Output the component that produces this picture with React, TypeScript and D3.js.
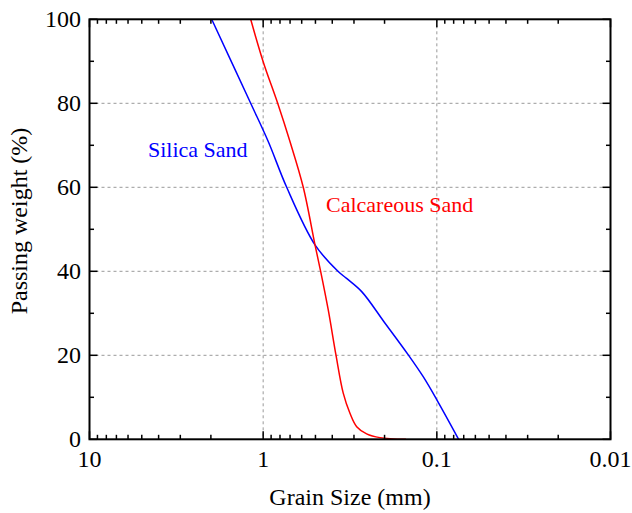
import React from "react";
import * as d3 from "d3";

const silicaSize = [1.979, 1.18, 0.935, 0.732, 0.503, 0.371, 0.331, 0.27, 0.2016, 0.146, 0.1198, 0.1, 0.0749];
const silicaPass = [100, 80, 70.9, 60, 46.3, 40, 38.3, 35.1, 28, 20.1, 14.9, 9.4, 0];

const calcSize = [1.18, 1.0, 0.825, 0.701, 0.5876, 0.503, 0.4667, 0.4219, 0.381, 0.3459, 0.3164, 0.2894, 0.2536, 0.2127, 0.1506];
const calcPass = [100, 89.9, 80, 70.9, 60, 46.3, 40, 30.8, 20.1, 11, 6.2, 3.0, 1.3, 0.4, 0];

const xMajorTicks = [10, 1, 0.1, 0.01];
const xTickLabels = ["10", "1", "0.1", "0.01"];
const yMajorTicks = [0, 20, 40, 60, 80, 100];
const yMinorTicks = [10, 30, 50, 70, 90];

const W = 632, H = 513;
const L = 89.5, R = 610.5, T = 19.3, B = 439.3;
const FONT = "'Liberation Serif', 'Times New Roman', serif";

export default function App() {
  const x = d3.scaleLog().domain([10, 0.01]).range([L, R]);
  const y = d3.scaleLinear().domain([0, 100]).range([B, T]);

  const xMinor: number[] = [];
  [1, 0.1, 0.01].forEach((dec) => {
    for (let k = 2; k <= 9; k++) xMinor.push(dec * k);
  });

  const line = d3
    .line<[number, number]>()
    .x((d) => x(d[0]))
    .y((d) => y(d[1]))
    .curve(d3.curveCatmullRom.alpha(0.5));

  const silica = silicaSize.map((s, i) => [s, silicaPass[i]] as [number, number]);
  const calc = calcSize.map((s, i) => [s, calcPass[i]] as [number, number]);

  const gridX = [1, 0.1];
  const gridY = [20, 40, 60, 80];
  const maj = 8, mnr = 4.5;

  return (
    <svg width={W} height={H} style={{ position: "absolute", left: 0, top: 0, background: "#fff" }} fontFamily={FONT}>
      {gridX.map((v) => (
        <line key={"gx" + v} x1={x(v)} x2={x(v)} y1={T} y2={B} stroke="#999" strokeWidth={1} strokeDasharray="3,3" />
      ))}
      {gridY.map((v) => (
        <line key={"gy" + v} x1={L} x2={R} y1={y(v)} y2={y(v)} stroke="#999" strokeWidth={1} strokeDasharray="3,3" />
      ))}
      <path d={line(silica) || ""} fill="none" stroke="#0000ff" strokeWidth={1.5} />
      <path d={line(calc) || ""} fill="none" stroke="#ff0000" strokeWidth={1.5} />
      {xMajorTicks.map((v) => (
        <g key={"xm" + v}>
          <line x1={x(v)} x2={x(v)} y1={B} y2={B - maj} stroke="#000" strokeWidth={1.5} />
          <line x1={x(v)} x2={x(v)} y1={T} y2={T + maj} stroke="#000" strokeWidth={1.5} />
        </g>
      ))}
      {xMinor.map((v) => (
        <g key={"xn" + v}>
          <line x1={x(v)} x2={x(v)} y1={B} y2={B - mnr} stroke="#000" strokeWidth={1.5} />
          <line x1={x(v)} x2={x(v)} y1={T} y2={T + mnr} stroke="#000" strokeWidth={1.5} />
        </g>
      ))}
      {yMajorTicks.map((v) => (
        <g key={"ym" + v}>
          <line x1={L} x2={L + maj} y1={y(v)} y2={y(v)} stroke="#000" strokeWidth={1.5} />
          <line x1={R} x2={R - maj} y1={y(v)} y2={y(v)} stroke="#000" strokeWidth={1.5} />
        </g>
      ))}
      {yMinorTicks.map((v) => (
        <g key={"yn" + v}>
          <line x1={L} x2={L + mnr} y1={y(v)} y2={y(v)} stroke="#000" strokeWidth={1.5} />
          <line x1={R} x2={R - mnr} y1={y(v)} y2={y(v)} stroke="#000" strokeWidth={1.5} />
        </g>
      ))}
      <rect x={L} y={T} width={R - L} height={B - T} fill="none" stroke="#000" strokeWidth={2} />
      {xMajorTicks.map((v, i) => (
        <text key={"xl" + v} x={x(v)} y={467} textAnchor="middle" fontSize={24} fill="#000">
          {xTickLabels[i]}
        </text>
      ))}
      {yMajorTicks.map((v) => (
        <text key={"yl" + v} x={81} y={y(v)} dy="0.33em" textAnchor="end" fontSize={24} fill="#000">
          {v}
        </text>
      ))}
      <text x={(L + R) / 2} y={505} textAnchor="middle" fontSize={24} fill="#000">
        Grain Size (mm)
      </text>
      <text transform={`translate(27,221) rotate(-90)`} textAnchor="middle" fontSize={24} fill="#000">
        Passing weight (%)
      </text>
      <text x={148} y={157} fontSize={22} fill="#0000ff">
        Silica Sand
      </text>
      <text x={326} y={212} fontSize={22} fill="#ff0000">
        Calcareous Sand
      </text>
    </svg>
  );
}
